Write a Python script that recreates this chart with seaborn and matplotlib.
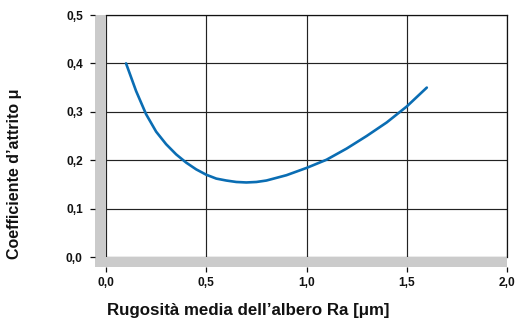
import matplotlib
matplotlib.use("Agg")
import matplotlib.pyplot as plt
import seaborn as sns
import pandas as pd
from matplotlib.patches import Rectangle
from matplotlib.ticker import FuncFormatter

# Data
ra = [0.10, 0.15, 0.20, 0.25, 0.30, 0.35, 0.40, 0.45, 0.50, 0.55, 0.60, 0.65,
      0.70, 0.75, 0.80, 0.90, 1.00, 1.10, 1.20, 1.30, 1.40, 1.50, 1.60]
mu = [0.400, 0.343, 0.295, 0.259, 0.233, 0.212, 0.195, 0.181, 0.170, 0.162, 0.158, 0.155,
      0.154, 0.155, 0.158, 0.169, 0.184, 0.201, 0.224, 0.250, 0.278, 0.311, 0.350]
xticks = [0.0, 0.5, 1.0, 1.5, 2.0]
yticks = [0.0, 0.1, 0.2, 0.3, 0.4, 0.5]
xlabel = "Rugosità media dell’albero Ra [μm]"
ylabel = "Coefficiente d’attrito μ"

sns.set_style("white")
plt.rcParams['font.family'] = ['Liberation Sans', 'DejaVu Sans']

W, H = 518, 319
fig = plt.figure(figsize=(W / 100, H / 100), dpi=100)
L, R, T, B = 106, 507, 15, 257
ax = fig.add_axes([L / W, 1 - B / H, (R - L) / W, (B - T) / H])

df = pd.DataFrame({"Ra": ra, "mu": mu})
sns.lineplot(data=df, x="Ra", y="mu", ax=ax, color="#0a6db3", linewidth=1.9, zorder=5)

ax.set_xlim(0, 2.0)
ax.set_ylim(0, 0.5)
ax.set_xticks(xticks)
ax.set_yticks(yticks)
fmt = FuncFormatter(lambda v, p: f"{v:.1f}".replace(".", ","))
ax.xaxis.set_major_formatter(fmt)
ax.yaxis.set_major_formatter(fmt)

ax.grid(True, color="#222222", linewidth=0.85)
ax.set_axisbelow(True)

aw, ah = R - L, B - T
barw = 11
barh = 10
for s in ["top", "right"]:
    ax.spines[s].set_color("#111111")
    ax.spines[s].set_linewidth(0.9)
ax.spines["left"].set_position(("outward", barw * 0.72))
ax.spines["bottom"].set_position(("outward", barh * 0.72))
for s in ["left", "bottom"]:
    ax.spines[s].set_visible(False)

gray = "#cbcbcb"
ax.add_patch(Rectangle((-barw / aw, -barh / ah), barw / aw, 1 + barh / ah,
                       transform=ax.transAxes, color=gray, clip_on=False, zorder=0.3, lw=0))
ax.add_patch(Rectangle((-barw / aw, -barh / ah), 1 + barw / aw, barh / ah,
                       transform=ax.transAxes, color=gray, clip_on=False, zorder=0.3, lw=0))

ax.tick_params(axis="both", which="both", bottom=True, left=True, top=False, right=False,
               length=3.8, width=0.9, color="#111111",
               labelsize=8.6, labelcolor="#111111")
ax.tick_params(axis="y", pad=5)
ax.tick_params(axis="x", pad=3.5)
for lab in ax.get_xticklabels() + ax.get_yticklabels():
    lab.set_fontweight("bold")

ax.set_xlabel(xlabel, fontsize=12.2, fontweight="bold", color="#111111")
ax.set_ylabel(ylabel, fontsize=11.5, fontweight="bold", color="#111111")
ax.xaxis.set_label_coords((248 - L) / aw, (B - 311) / ah)
ax.xaxis.label.set_va("center")
ax.yaxis.set_label_coords((15 - L) / aw, (B - 174) / ah)
ax.yaxis.label.set_va("center")

fig.savefig("out.png", dpi=100)
